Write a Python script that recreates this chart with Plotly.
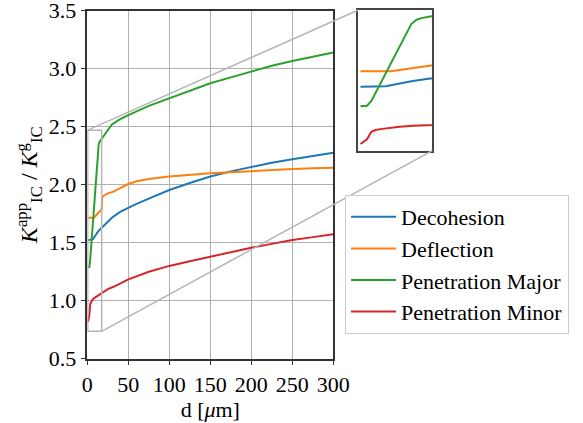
import plotly.graph_objects as go

# ---------------- data ----------------
d_decohesion = [1, 2, 4, 6.8, 10, 13, 17, 20, 25, 30, 40, 50, 60, 75, 100, 125, 150, 175, 200, 225, 250, 275, 300]
v_decohesion = [1.523, 1.523, 1.525, 1.53, 1.565, 1.595, 1.625, 1.645, 1.685, 1.715, 1.765, 1.80, 1.835, 1.88,
                1.954, 2.015, 2.07, 2.115, 2.155, 2.19, 2.22, 2.25, 2.276]

d_deflection = [1, 4, 8, 10, 13, 16, 17.6, 18.2, 20, 25, 32, 40, 50, 60, 75, 100, 125, 150, 175, 200, 225, 250, 275, 300]
v_deflection = [1.716, 1.716, 1.716, 1.73, 1.757, 1.78, 1.79, 1.89, 1.905, 1.925, 1.94, 1.97, 2.006, 2.03, 2.05,
                2.07, 2.085, 2.098, 2.108, 2.118, 2.127, 2.135, 2.141, 2.147]

d_pen_major = [1, 2, 2.5, 3.5, 5, 7, 9, 11, 12.7, 13.9, 15, 17, 20, 25, 30, 40, 50, 75, 100, 125, 150, 175, 200,
               225, 250, 275, 300]
v_pen_major = [1.285, 1.285, 1.29, 1.35, 1.505, 1.71, 1.92, 2.13, 2.30, 2.35, 2.37, 2.39, 2.43, 2.48, 2.52, 2.565,
               2.60, 2.68, 2.745, 2.81, 2.874, 2.925, 2.974, 3.026, 3.066, 3.10, 3.14]

d_pen_minor = [1, 2.5, 3.5, 4.4, 6, 8, 10, 13, 17, 20, 25, 32, 40, 50, 75, 100, 125, 150, 175, 200, 225, 250, 275, 300]
v_pen_minor = [0.818, 0.876, 0.97, 0.99, 1.005, 1.02, 1.03, 1.045, 1.06, 1.075, 1.10, 1.12, 1.15, 1.184, 1.25,
               1.30, 1.34, 1.38, 1.415, 1.457, 1.49, 1.523, 1.548, 1.572]

series_names = ["Decohesion", "Deflection", "Penetration Major", "Penetration Minor"]
series_colors = ["#1f77b4", "#ff7f0e", "#2ca02c", "#d62728"]
series_d = [d_decohesion, d_deflection, d_pen_major, d_pen_minor]
series_v = [v_decohesion, v_deflection, v_pen_major, v_pen_minor]

x_ticks = [0, 50, 100, 150, 200, 250, 300]
y_ticks = [0.5, 1.0, 1.5, 2.0, 2.5, 3.0, 3.5]
x_range = [0, 300]
y_range = [0.5, 3.5]
inset_x_range = [0.5, 17.5]
inset_y_range = [0.736, 2.47]

# ---------------- layout geometry ----------------
W, H = 583, 423
main_x_dom = [87.3 / W, 333.3 / W]
main_y_dom = [(H - 358.7) / H, (H - 10.7) / H]
ins_x_dom = [358.3 / W, 432.3 / W]
ins_y_dom = [(H - 150.7) / H, (H - 10.0) / H]

FONT = "Liberation Serif"
GRID = "#b0b0b0"
CONN = "#b5b5b5"
FS = 22

fig = go.Figure()
for name, col, dd, vv in zip(series_names, series_colors, series_d, series_v):
    fig.add_trace(go.Scatter(x=dd, y=vv, mode="lines", name=name,
                             line=dict(color=col, width=2), xaxis="x", yaxis="y"))
for name, col, dd, vv in zip(series_names, series_colors, series_d, series_v):
    fig.add_trace(go.Scatter(x=dd, y=vv, mode="lines", name=name, showlegend=False,
                             line=dict(color=col, width=2), xaxis="x2", yaxis="y2"))


def to_paper(xv, yv):
    px = main_x_dom[0] + (xv - x_range[0]) / (x_range[1] - x_range[0]) * (main_x_dom[1] - main_x_dom[0])
    py = main_y_dom[0] + (yv - y_range[0]) / (y_range[1] - y_range[0]) * (main_y_dom[1] - main_y_dom[0])
    return px, py


shapes = []
shapes.append(dict(type="rect", xref="x", yref="y",
                   x0=inset_x_range[0], x1=inset_x_range[1], y0=inset_y_range[0], y1=inset_y_range[1],
                   line=dict(color=CONN, width=1.5), layer="above"))
p1 = to_paper(inset_x_range[0], inset_y_range[1])
shapes.append(dict(type="line", xref="paper", yref="paper", x0=p1[0], y0=p1[1],
                   x1=ins_x_dom[0], y1=ins_y_dom[1], line=dict(color=CONN, width=1.5), layer="above"))
p2 = to_paper(inset_x_range[1], inset_y_range[0])
shapes.append(dict(type="line", xref="paper", yref="paper", x0=p2[0], y0=p2[1],
                   x1=ins_x_dom[1], y1=ins_y_dom[0], line=dict(color=CONN, width=1.5), layer="above"))

fig.update_layout(
    width=W, height=H,
    margin=dict(l=0, r=0, t=0, b=0, autoexpand=False),
    paper_bgcolor="white", plot_bgcolor="white",
    font=dict(family=FONT, size=FS, color="black"),
    showlegend=True,
    legend=dict(x=345 / W, y=(H - 195) / H, xanchor="left", yanchor="top",
                bgcolor="rgba(255,255,255,0.85)", bordercolor="#cccccc", borderwidth=1,
                font=dict(family=FONT, size=FS), tracegroupgap=0, itemwidth=45),
    xaxis=dict(domain=main_x_dom, range=x_range, tickvals=x_ticks, ticktext=[str(t) for t in x_ticks],
               showgrid=True, gridcolor=GRID, gridwidth=1, zeroline=False,
               showline=True, linecolor="#333333", linewidth=1.5, mirror=True,
               ticks="outside", ticklen=5, tickcolor="#333333", tickfont=dict(size=FS),
               ticklabeloverflow="allow",
               title=dict(text="d [<i>μ</i>m]", font=dict(size=FS), standoff=2), anchor="y"),
    yaxis=dict(domain=main_y_dom, range=y_range, tickvals=y_ticks, ticktext=[f"{t:.1f}" for t in y_ticks],
               showgrid=True, gridcolor=GRID, gridwidth=1, zeroline=False,
               showline=True, linecolor="#333333", linewidth=1.5, mirror=True,
               ticks="outside", ticklen=5, tickcolor="#333333", tickfont=dict(size=FS),
               ticklabeloverflow="allow",
               title=dict(text="<i>K</i><sup>app</sup><sub>IC</sub> / <i>K</i><sup>g</sup><sub>IC</sub>",
                          font=dict(size=24), standoff=4), anchor="x"),
    xaxis2=dict(domain=ins_x_dom, range=inset_x_range, showticklabels=False, ticks="", showgrid=False,
                zeroline=False, showline=True, linecolor="#444444", linewidth=1.5, mirror=True, anchor="y2"),
    yaxis2=dict(domain=ins_y_dom, range=inset_y_range, showticklabels=False, ticks="", showgrid=False,
                zeroline=False, showline=True, linecolor="#444444", linewidth=1.5, mirror=True, anchor="x2"),
    shapes=shapes,
)

fig.write_html("out.html", config={"displayModeBar": False},
               post_script="document.body.style.margin='0px';")
